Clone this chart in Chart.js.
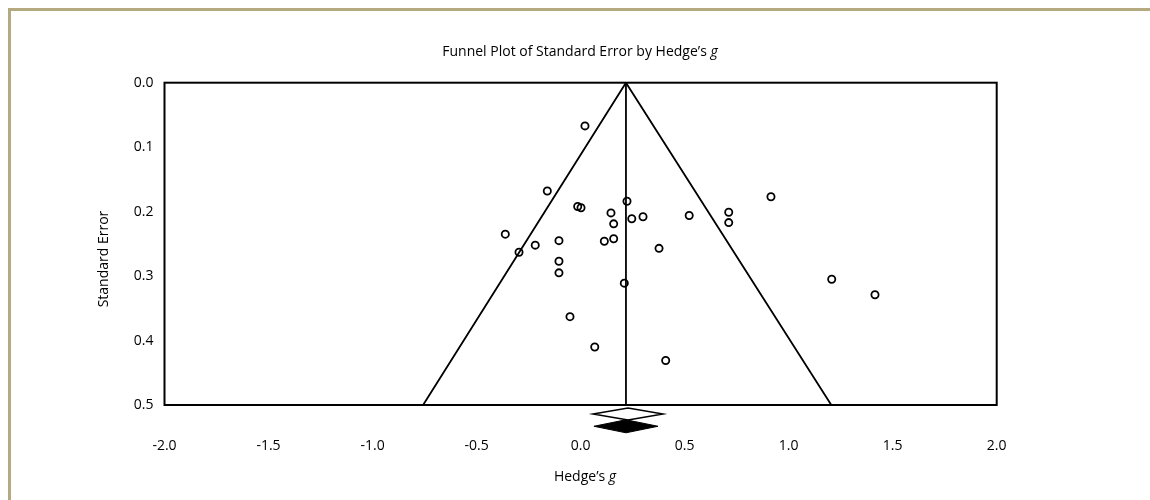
<!DOCTYPE html>
<html><head><meta charset="utf-8">
<script src="https://cdn.jsdelivr.net/npm/chart.js@4.4.1/dist/chart.umd.min.js"></script>
<style>
html,body{margin:0;padding:0;background:#fff;}
#wrap{position:relative;width:1150px;height:500px;overflow:hidden;background:#fff;}
#frame{position:absolute;left:8px;top:8px;width:1200px;height:600px;border-top:3px solid #b5aa7f;border-left:3px solid #b5aa7f;}
canvas{position:absolute;left:0;top:0;}
</style></head><body>
<div id="wrap"><div id="frame"></div><canvas id="c" width="1150" height="500"></canvas></div>
<script>
// ---- data ----
const studyG  = [0.021,-0.160,0.223,-0.014,0.002,0.146,0.246,0.300,0.522,0.159,-0.362,-0.218,-0.104,0.114,0.159,0.377,-0.296,-0.104,-0.104,0.210,-0.051,0.068,0.409,0.712,0.712,0.915,1.207,1.415];
const studySE = [0.067,0.168,0.184,0.192,0.194,0.202,0.211,0.208,0.206,0.219,0.235,0.252,0.245,0.246,0.242,0.257,0.263,0.277,0.295,0.311,0.363,0.410,0.431,0.201,0.217,0.177,0.305,0.329];
const xTicks = [-2.0,-1.5,-1.0,-0.5,0.0,0.5,1.0,1.5,2.0];
const yTicks = [0.0,0.1,0.2,0.3,0.4,0.5];
const pooledMean = 0.218;
const funnelBaseG = [-0.757, 1.205];
const funnelBaseSE = 0.5;
const observedCI = [0.060, 0.228, 0.396];   // open diamond: lower, point, upper
const adjustedCI = [0.064, 0.218, 0.372];   // filled diamond: lower, point, upper
const titleText = 'Funnel Plot of Standard Error by Hedge\u2019s ';
const xTitleText = 'Hedge\u2019s ';
const yTitleText = 'Standard Error';
const italicSym = 'g';

const FONT = '"Open Sans"';
const FS = 14;
function diamond(ci, yc, h){
  return [{x:ci[0],y:yc},{x:ci[1],y:yc-h},{x:ci[2],y:yc},{x:ci[1],y:yc+h},{x:ci[0],y:yc}];
}
function drawMixed(ctx, parts, cx, y, size){
  let total = 0;
  parts.forEach(p=>{ctx.font=(p.it?'italic ':'')+size+'px '+FONT; p.w=ctx.measureText(p.t).width; total+=p.w;});
  let x = cx-total/2;
  ctx.textAlign='left'; ctx.textBaseline='alphabetic';
  parts.forEach(p=>{ctx.font=(p.it?'italic ':'')+size+'px '+FONT; ctx.fillText(p.t,x,y); x+=p.w;});
}
const deco = {
  id:'deco',
  beforeDatasetsDraw(chart){
    const {ctx, chartArea:a} = chart;
    ctx.save(); ctx.strokeStyle='#000'; ctx.lineWidth=2;
    ctx.strokeRect(a.left,a.top,a.right-a.left,a.bottom-a.top);
    ctx.restore();
  },
  afterDatasetsDraw(chart){
    const ctx = chart.ctx;
    [[2,'#fff',1.5],[3,'#000',1]].forEach(([idx,fill,lw])=>{
      const pts = chart.getDatasetMeta(idx).data;
      ctx.save(); ctx.beginPath();
      pts.forEach((p,i)=>{ if(i===0) ctx.moveTo(p.x,p.y); else ctx.lineTo(p.x,p.y); });
      ctx.closePath(); ctx.fillStyle=fill; ctx.fill();
      ctx.strokeStyle='#000'; ctx.lineWidth=lw; ctx.lineJoin='miter'; ctx.stroke();
      ctx.restore();
    });
  },
  afterDraw(chart){
    const ctx = chart.ctx;
    ctx.save(); ctx.fillStyle='#000';
    drawMixed(ctx,[{t:titleText},{t:italicSym,it:true}],580,56,FS);
    drawMixed(ctx,[{t:xTitleText},{t:italicSym,it:true}],585,481,FS);
    ctx.translate(108,259); ctx.rotate(-Math.PI/2);
    ctx.font=FS+'px '+FONT; ctx.textAlign='center'; ctx.textBaseline='alphabetic';
    ctx.fillText(yTitleText,0,0);
    ctx.restore();
  }
};
const lineDs = (data, extra) => Object.assign({type:'scatter',data,showLine:true,borderColor:'#000',borderWidth:1.8,pointRadius:0,tension:0,fill:false},extra||{});
new Chart(document.getElementById('c'),{
  type:'scatter',
  data:{datasets:[
    lineDs([{x:funnelBaseG[0],y:funnelBaseSE},{x:pooledMean,y:0},{x:funnelBaseG[1],y:funnelBaseSE}]),
    lineDs([{x:pooledMean,y:0},{x:pooledMean,y:funnelBaseSE}]),
    lineDs(diamond(observedCI,0.514,0.0093),{clip:false,showLine:false}),
    lineDs(diamond(adjustedCI,0.533,0.0101),{clip:false,showLine:false}),
    {data:studyG.map((g,i)=>({x:g,y:studySE[i]})),pointStyle:'circle',pointRadius:3.6,pointBorderWidth:1.8,borderColor:'#000',backgroundColor:'rgba(0,0,0,0)',pointBackgroundColor:'rgba(0,0,0,0)',showLine:false}
  ]},
  options:{
    responsive:false,animation:false,devicePixelRatio:1,
    layout:{padding:{top:82.7,right:153.3,bottom:35,left:0}},
    plugins:{legend:{display:false},tooltip:{enabled:false},title:{display:false}},
    scales:{
      x:{type:'linear',min:-2,max:2,
        afterBuildTicks:s=>{s.ticks=xTicks.map(v=>({value:v}));},
        afterFit:s=>{s.height=60;},
        grid:{display:false,drawTicks:false},border:{display:false},
        ticks:{autoSkip:false,maxRotation:0,padding:32.8,color:'#000',font:{family:'Open Sans',size:FS},callback:v=>Number(v).toFixed(1)}},
      y:{type:'linear',min:0,max:0.5,reverse:true,
        afterBuildTicks:s=>{s.ticks=yTicks.map(v=>({value:v}));},
        afterFit:s=>{s.width=164.5;},
        grid:{display:false,drawTicks:false},border:{display:false},
        ticks:{autoSkip:false,padding:11,color:'#000',font:{family:'Open Sans',size:FS},callback:v=>Number(v).toFixed(1)}}
    }
  },
  plugins:[deco]
});
</script>
</body></html>
